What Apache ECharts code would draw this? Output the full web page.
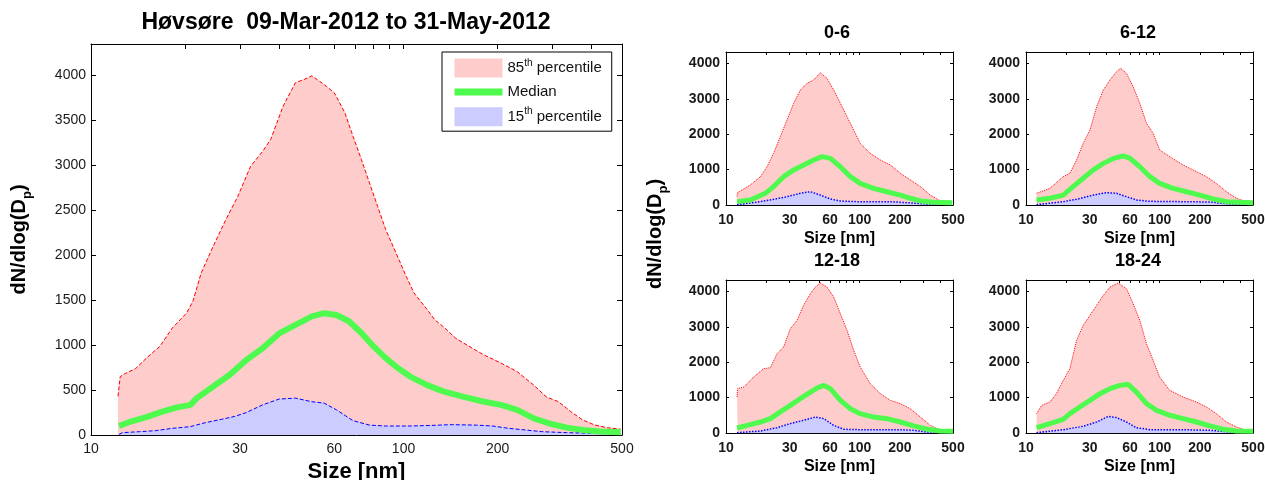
<!DOCTYPE html>
<html>
<head>
<meta charset="utf-8">
<script src="https://cdn.jsdelivr.net/npm/echarts@6/dist/echarts.min.js"></script>
<style>html,body{margin:0;padding:0;background:#fff}#main{width:1265px;height:480px}</style>
</head>
<body>
<div id="main"></div>
<script>
// [size nm, dN/dlogDp]
var all85 = [[12.2,430],[12.4,650],[12.8,680],[13.9,740],[15.2,870],[16.6,985],[18.2,1190],[20.2,1355],[21.2,1490],[22.5,1800],[24.6,2100],[27.0,2395],[29.5,2655],[32.4,2990],[35.4,3155],[37.6,3290],[41.2,3660],[45.1,3920],[48.0,3955],[50.9,3995],[55.7,3900],[60.1,3805],[64.9,3585],[68.9,3325],[73.3,3065],[77.8,2805],[82.6,2545],[87.7,2285],[94.6,2025],[102,1765],[108,1580],[119,1395],[126,1280],[134,1205],[147,1075],[166,965],[181,890],[205,800],[231,705],[261,555],[286,425],[313,370],[343,260],[375,165],[410,110],[450,80],[495,65]];
var allMed = [[12.3,100],[13.4,150],[15.2,205],[16.9,260],[18.7,305],[20.8,335],[21.8,410],[24.6,540],[27.8,670],[31.4,835],[35.4,965],[40.0,1130],[45.1,1225],[50.9,1320],[55.7,1355],[61.0,1335],[66.9,1265],[73.3,1135],[80.2,985],[87.7,855],[95.9,745],[105,650],[119,555],[134,485],[156,425],[181,370],[205,335],[231,280],[261,185],[295,125],[333,82],[375,56],[423,38],[495,30]];
var all15 = [[12.3,7],[12.6,26],[14.3,37],[16.1,48],[18.2,74],[20.8,93],[23.2,137],[26.2,175],[28.7,205],[31.4,250],[35.4,335],[40.0,400],[45.1,410],[50.9,370],[55.7,355],[61.0,280],[68.9,160],[77.8,110],[87.7,100],[105,100],[126,108],[142,115],[171,110],[193,100],[217,74],[245,56],[277,37],[333,26],[398,19],[495,15]];

var h0_85 = [[12.1,240],[12.2,350],[15.2,565],[18.1,800],[20.3,1080],[22.7,1460],[25.5,1930],[28.6,2400],[32.1,2870],[36.0,3245],[40.4,3435],[45.3,3530],[50.8,3735],[57.0,3575],[64.0,3245],[71.8,2870],[80.5,2495],[90.3,2115],[101,1740],[120,1460],[143,1270],[170,1130],[202,895],[240,705],[285,520],[338,280],[391,140],[439,66],[494,28]];
var h0_med = [[12.1,95],[15.2,140],[19.7,330],[22.7,520],[27.0,800],[32.1,990],[38.1,1130],[45.3,1270],[52.3,1365],[60.4,1315],[71.8,1080],[85.3,800],[101,610],[127,470],[160,375],[202,280],[240,190],[285,115],[358,75],[494,66]];
var h0_15 = [[12.1,10],[18.1,94],[22.7,160],[28.6,235],[36.0,330],[42.8,375],[50.8,280],[60.4,170],[71.8,113],[95.6,94],[170,94],[227,66],[320,28],[494,19]];

var h6_85 = [[12.0,330],[15.1,470],[19.0,800],[21.3,895],[23.9,1270],[26.8,1740],[30.1,2115],[33.8,2775],[37.9,3245],[42.5,3530],[47.6,3765],[51.0,3860],[56.5,3715],[63.4,3340],[71.1,2870],[79.8,2305],[89.5,2025],[100,1555],[119,1365],[150,1130],[189,940],[224,800],[266,610],[316,375],[376,190],[446,94],[500,66]];
var h6_med = [[12.0,140],[15.1,190],[19.0,280],[22.5,520],[26.8,755],[31.9,990],[37.9,1175],[45.0,1315],[53.5,1385],[60.1,1315],[71.1,1080],[84.7,800],[100,610],[126,470],[159,375],[200,280],[252,170],[316,94],[398,75],[500,66]];
var h6_15 = [[12.0,10],[19.0,94],[23.9,160],[31.9,280],[40.1,350],[47.6,330],[56.5,235],[67.1,140],[84.5,104],[150,94],[237,85],[335,28],[500,19]];

var h12_85 = [[12.1,1015],[12.2,1250],[13.6,1300],[16.1,1580],[19.1,1815],[21.5,1845],[24.1,2240],[27.0,2430],[30.3,2945],[34.0,3180],[38.1,3605],[42.8,3935],[46.6,4120],[50.8,4235],[57.0,4120],[64.0,3840],[71.8,3370],[80.5,2900],[90.3,2335],[101,1865],[120,1395],[143,1110],[170,920],[202,830],[240,685],[285,450],[338,215],[402,75],[500,56]];
var h12_med = [[12.1,140],[14.4,215],[18.1,310],[21.5,405],[25.5,595],[30.3,780],[36.0,970],[42.8,1155],[48.0,1270],[53.9,1345],[60.4,1250],[71.8,920],[85.3,685],[101,545],[127,450],[160,405],[202,310],[254,200],[320,105],[402,56],[500,47]];
var h12_15 = [[12.1,10],[18.1,56],[24.1,150],[30.3,265],[38.1,360],[46.6,450],[53.9,405],[64.0,215],[76.1,105],[101,94],[202,94],[254,75],[320,28],[500,19]];

var h18_85 = [[12.0,545],[13.1,780],[15.1,875],[16.9,1110],[19.0,1485],[21.3,1815],[23.9,2615],[26.8,3040],[30.1,3320],[33.8,3605],[37.9,3885],[42.5,4120],[48.9,4235],[56.5,4075],[63.4,3650],[71.1,3180],[79.8,2520],[89.5,2050],[100,1580],[119,1205],[150,1015],[189,875],[224,735],[266,545],[316,310],[376,170],[446,75],[500,56]];
var h18_med = [[12.0,150],[15.1,265],[19.0,385],[21.3,545],[25.3,735],[30.1,920],[35.8,1110],[42.5,1250],[50.4,1345],[58.1,1375],[67.1,1155],[79.8,830],[95.1,640],[119,500],[150,405],[189,310],[238,200],[299,105],[376,56],[500,47]];
var h18_15 = [[12.0,10],[19.0,94],[26.8,190],[33.8,310],[41.3,470],[47.6,435],[56.5,310],[67.1,150],[84.5,94],[150,94],[237,75],[335,28],[500,19]];

var sizeLabels = [10, 30, 60, 100, 200, 500];
var sizeTicks = [20, 30, 40, 50, 60, 70, 80, 90, 100, 200, 300, 400];
var hourTitles = ['0-6', '6-12', '12-18', '18-24'];

var FONT = '"Liberation Sans", Arial, sans-serif';
var PINK = '#ffcccc', LAV = '#ccccff', GREEN = '#4dfa4d';

var grids = [], xAxes = [], yAxes = [], series = [];

function addPanel(box, yMax, yStep, small, p85, med, p15) {
  var g = grids.length;
  // outerBoundsMode none: keep the plot box where it is, labels may go near the edge
  grids.push({left: box[0], top: box[1], width: box[2], height: box[3], outerBoundsMode: 'none', containLabel: false});
  var ls = {color: '#000', width: 1};
  var tick = {inside: true, length: small ? 3 : 5, customValues: sizeTicks, lineStyle: ls};
  var lblFont = {fontSize: 14, color: '#1a1a1a', fontFamily: FONT, fontWeight: small ? 'bold' : 'normal'};
  xAxes.push({
    type: 'log', logBase: 10, gridIndex: g, min: 10, max: 500, position: 'bottom',
    axisLine: {onZero: false, lineStyle: ls}, axisTick: tick, splitLine: {show: false},
    axisLabel: Object.assign({customValues: sizeLabels, margin: small ? 8 : 7,
      formatter: function (v) { return String(Math.round(v)); }}, lblFont),
    name: 'Size [nm]', nameLocation: 'middle', nameGap: small ? 26 : 23,
    nameTextStyle: {fontSize: small ? 16 : 22, fontWeight: 'bold', color: '#000', fontFamily: FONT}
  });
  xAxes.push({
    type: 'log', logBase: 10, gridIndex: g, min: 10, max: 500, position: 'top',
    axisLine: {onZero: false, lineStyle: ls}, axisTick: tick, axisLabel: {show: false}, splitLine: {show: false}
  });
  var ytick = {inside: true, length: small ? 3 : 5, lineStyle: ls};
  var y = {
    type: 'value', gridIndex: g, min: 0, max: yMax, interval: yStep, position: 'left',
    axisLine: {show: true, onZero: false, lineStyle: ls}, axisTick: ytick, splitLine: {show: false},
    axisLabel: Object.assign({margin: small ? 6 : 5, showMaxLabel: false,
      formatter: function (v) { return String(v); }}, lblFont)
  };
  if (!small) {
    y.name = 'dN/dlog(D{sub|p})';
    y.nameLocation = 'middle';
    y.nameGap = 57;
    y.nameTextStyle = {fontSize: 20, fontWeight: 'bold', color: '#000', fontFamily: FONT,
      rich: {sub: {fontSize: 13, fontWeight: 'bold', fontFamily: FONT, color: '#000', padding: [16, 0, 0, 0]}}};
  }
  yAxes.push(y);
  yAxes.push({
    type: 'value', gridIndex: g, min: 0, max: yMax, interval: yStep, position: 'right',
    axisLine: {show: true, onZero: false, lineStyle: ls}, axisTick: ytick, axisLabel: {show: false}, splitLine: {show: false}
  });
  var idx = {xAxisIndex: 2 * g, yAxisIndex: 2 * g};
  var pre = small ? hourTitles[g - 1] + ' ' : '';
  series.push(Object.assign({
    type: 'line', name: pre + '85th percentile', data: p85, symbol: 'none', z: 1,
    itemStyle: {color: '#ff0000'},
    lineStyle: {color: '#ff0000', width: 1, type: small ? 'dotted' : 'dashed'},
    areaStyle: {color: PINK, opacity: 1}
  }, idx));
  series.push(Object.assign({
    type: 'line', name: pre + '15th percentile', data: p15, symbol: 'none', z: 2,
    itemStyle: {color: '#0000ff'},
    lineStyle: {color: '#0000ff', width: small ? 1.5 : 1, type: small ? 'dotted' : 'dashed'},
    areaStyle: {color: LAV, opacity: 1}
  }, idx));
  series.push(Object.assign({
    type: 'line', name: pre + 'Median', data: med, symbol: 'none', z: 3,
    itemStyle: {color: GREEN},
    lineStyle: {color: GREEN, width: small ? 5 : 6}
  }, idx));
}

addPanel([91, 44, 531, 391], 4350, 500, false, all85, allMed, all15);
addPanel([726, 52, 227, 153], 4320, 1000, true, h0_85, h0_med, h0_15);
addPanel([1026, 52, 227, 153], 4320, 1000, true, h6_85, h6_med, h6_15);
addPanel([726, 280, 227, 153], 4320, 1000, true, h12_85, h12_med, h12_15);
addPanel([1026, 280, 227, 153], 4320, 1000, true, h18_85, h18_med, h18_15);

var titleStyle = function (size) {
  return {fontSize: size, fontWeight: 'bold', color: '#000', fontFamily: FONT};
};

var option = {
  animation: false,
  backgroundColor: '#fff',
  title: [
    {text: 'Høvsøre  09-Mar-2012 to 31-May-2012', left: 341, top: 6, textAlign: 'center', textStyle: titleStyle(23)},
    {text: hourTitles[0], left: 832, top: 19, textAlign: 'center', textStyle: titleStyle(18)},
    {text: hourTitles[1], left: 1133, top: 19, textAlign: 'center', textStyle: titleStyle(18)},
    {text: hourTitles[2], left: 832, top: 247, textAlign: 'center', textStyle: titleStyle(18)},
    {text: hourTitles[3], left: 1133, top: 247, textAlign: 'center', textStyle: titleStyle(18)}
  ],
  legend: {
    data: [
      {name: '85th percentile', icon: 'rect', itemStyle: {color: PINK, borderWidth: 0}},
      {name: 'Median', lineStyle: {width: 7, color: GREEN}, itemStyle: {color: 'rgba(0,0,0,0)', borderWidth: 0}},
      {name: '15th percentile', icon: 'rect', itemStyle: {color: LAV, borderWidth: 0}}
    ],
    orient: 'vertical', left: 442, top: 52, itemWidth: 48, itemHeight: 19, itemGap: 7,
    padding: [6, 10, 5, 9], borderColor: '#000', borderWidth: 1, backgroundColor: '#fff',
    selectedMode: false,
    formatter: function (n) { return n.replace(/^(\d+)th/, '$1{sup|th}'); },
    textStyle: {fontSize: 15, color: '#111', fontFamily: FONT,
      rich: {sup: {fontSize: 10, fontFamily: FONT, color: '#111', padding: [0, 0, 10, 0]}}}
  },
  graphic: [{
    type: 'text', x: 655, y: 234, rotation: Math.PI / 2,
    style: {
      text: 'dN/dlog(D{sub|p})', fontSize: 20, fontWeight: 'bold', fontFamily: FONT, fill: '#000',
      align: 'center', verticalAlign: 'middle',
      rich: {sub: {fontSize: 13, fontWeight: 'bold', fontFamily: FONT, fill: '#000', padding: [16, 0, 0, 0]}}
    }
  }],
  grid: grids,
  xAxis: xAxes,
  yAxis: yAxes,
  series: series
};

var myChart = echarts.init(document.getElementById('main'));
myChart.setOption(option);
</script>
</body>
</html>
